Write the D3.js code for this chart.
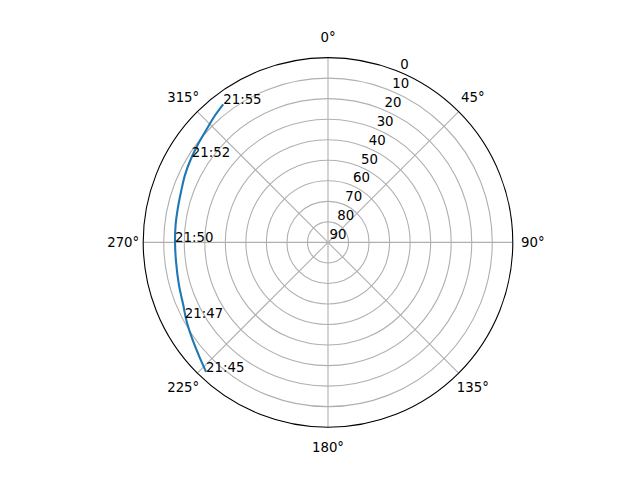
<!DOCTYPE html>
<meta charset="utf-8">
<style>
body { margin: 0; background: #fff; }
text { font-family: "DejaVu Sans", sans-serif; font-size: 13.3px; fill: #000; }
.grid { fill: none; stroke: #b0b0b0; stroke-width: 1.1; }
</style>
<body>
<script src="https://d3js.org/d3.v7.min.js"></script>
<script>

var width = 640
var height = 480

// pass track, azimuth (deg, clockwise from north) and elevation (deg)
var azimuth = [223.3, 227.8, 233.6, 240.7, 246.6, 254.0, 262.8, 270.3, 276.5, 282.8,
               289.0, 295.2, 301.5, 306.9, 313.6, 318.4, 322.8]
var elevation = [3.4, 5.9, 8.5, 11.1, 13.2, 14.5, 15.4, 15.5, 15.3, 15.0,
                 14.3, 13.0, 11.8, 10.7, 9.0, 7.2, 5.6]

// time labels along the track
var labelTimes = ["21:45", "21:47", "21:50", "21:52", "21:55"]
var labelAz = [223.3, 242.1, 270.0, 302.2, 322.8]
var labelEl = [3.4, 11.1, 15.5, 11.6, 5.6]

var rTicks = [0, 10, 20, 30, 40, 50, 60, 70, 80, 90]
var thetaTicks = [0, 45, 90, 135, 180, 225, 270, 315]

var cx = 328, cy = 242.4, R = 184.8

var svg = d3.select("body").append("svg")
    .attr("width", width)
    .attr("height", height)

var g = svg.append("g")
    .attr("transform", "translate(" + cx + "," + cy + ")")

var r = d3.scaleLinear().domain([0, 90]).range([R, 0])
var a = d3.scaleLinear().domain([0, 360]).range([0, 2 * Math.PI])

// circular grid
g.selectAll(".ring")
    .data(rTicks.filter(function(d) { return d > 0 && d < 90 }))
  .enter().append("circle")
    .attr("class", "grid")
    .attr("r", function(d) { return r(d) })

// spokes
g.selectAll(".spoke")
    .data(thetaTicks)
  .enter().append("line")
    .attr("class", "grid")
    .attr("x1", 0).attr("y1", 0)
    .attr("x2", function(d) { return d3.pointRadial(a(d), R)[0] })
    .attr("y2", function(d) { return d3.pointRadial(a(d), R)[1] })

// outer spine
g.append("circle")
    .attr("r", R)
    .attr("fill", "none")
    .attr("stroke", "#000")
    .attr("stroke-width", 1.1)

// angle labels
g.selectAll(".tlabel")
    .data(thetaTicks)
  .enter().append("text")
    .attr("x", function(d) { return d3.pointRadial(a(d), R + 20)[0] })
    .attr("y", function(d) { return d3.pointRadial(a(d), R + 20)[1] })
    .attr("text-anchor", "middle")
    .attr("dy", "0.35em")
    .text(function(d) { return d + "°" })

// radial labels at 22.5 deg
g.selectAll(".rlabel")
    .data(rTicks)
  .enter().append("text")
    .attr("x", function(d) { return d3.pointRadial(a(22.5), r(d))[0] + 1.5 })
    .attr("y", function(d) { return d3.pointRadial(a(22.5), r(d))[1] - 3 })
    .text(function(d) { return d })

// track
var line = d3.lineRadial()
    .angle(function(i) { return a(azimuth[i]) })
    .radius(function(i) { return r(elevation[i]) })
    .curve(d3.curveCatmullRom)

g.append("path")
    .attr("d", line(d3.range(azimuth.length)))
    .attr("fill", "none")
    .attr("stroke", "#1f77b4")
    .attr("stroke-width", 2.1)
    .attr("stroke-linejoin", "round")

// time labels
g.selectAll(".time")
    .data(labelTimes)
  .enter().append("text")
    .attr("x", function(d, i) { return d3.pointRadial(a(labelAz[i]), r(labelEl[i]))[0] })
    .attr("y", function(d, i) { return d3.pointRadial(a(labelAz[i]), r(labelEl[i]))[1] })
    .text(function(d) { return d })

</script>
